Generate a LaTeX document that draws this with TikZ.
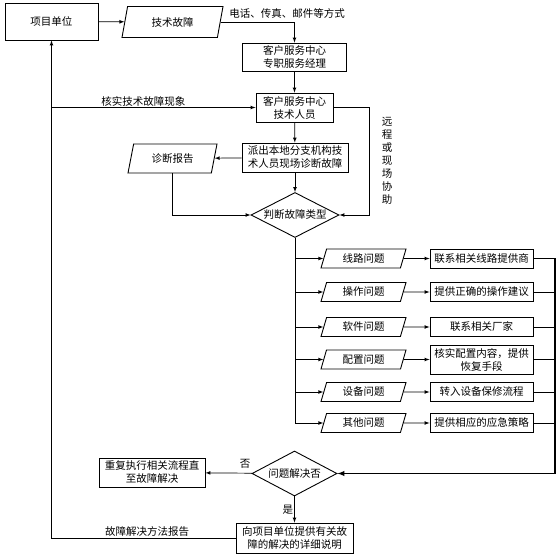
\documentclass[tikz,border=0pt]{standalone}
\usepackage{fontspec}
\newfontfamily\cjk{Noto Sans CJK SC}
\usetikzlibrary{shapes.geometric}
\begin{document}
\begin{tikzpicture}[x=1pt,y=-1pt,>=latex,line width=0.7pt,
    box/.style={draw,line width=0.9pt,inner sep=0pt,align=center,font=\cjk\fontsize{10.5}{13}\selectfont},
    para/.style={draw,line width=0.9pt,trapezium,trapezium left angle=60,trapezium right angle=120,trapezium stretches body,inner sep=0pt,font=\cjk\fontsize{10.5}{13}\selectfont},
    choice/.style={draw,line width=0.9pt,diamond,aspect=1.95,inner sep=0pt,font=\cjk\fontsize{10.5}{13}\selectfont},
    lbl/.style={inner sep=1pt,font=\cjk\fontsize{10.5}{13}\selectfont}]
        \useasboundingbox (0,0) rectangle (560,556);
        %Top row
            \node[box,minimum width=93pt,minimum height=37pt] (unit) at (51.5,21.5) {项目单位};
            \node[para,minimum width=101pt,minimum height=31pt] (fault) at (172.5,22) {技术故障};
        %Service center
            \node[box,minimum width=104pt,minimum height=28pt] (manager) at (294.5,57) {客户服务中心\\专职服务经理};
            \node[box,minimum width=77pt,minimum height=29pt] (tech) at (294.5,107.5) {客户服务中心\\技术人员};
            \node[box,minimum width=106pt,minimum height=29pt] (dispatch) at (295,157.5) {派出本地分支机构技\\术人员现场诊断故障};
            \node[para,minimum width=89pt,minimum height=29pt] (report) at (172.5,158.5) {诊断报告};
        %Judge
            \node[choice,minimum width=88pt,minimum height=45pt] (judge) at (295,215) {判断故障类型};
            \coordinate (assist) at (369,215);
        %Problem types
            \node[para,minimum width=85pt,minimum height=19pt] (line) at (363.5,258.5) {线路问题};
            \node[para,minimum width=85pt,minimum height=19pt] (oper) at (363.5,292) {操作问题};
            \node[para,minimum width=85pt,minimum height=19pt] (soft) at (363.5,327) {软件问题};
            \node[para,minimum width=85pt,minimum height=19pt] (conf) at (363.5,359.5) {配置问题};
            \node[para,minimum width=85pt,minimum height=19pt] (dev) at (363.5,392) {设备问题};
            \node[para,minimum width=85pt,minimum height=19pt] (other) at (363.5,423) {其他问题};
        %Actions
            \node[box,minimum width=103pt,minimum height=19pt] (lineact) at (481.5,258.5) {联系相关线路提供商};
            \node[box,minimum width=103pt,minimum height=19pt] (operact) at (481.5,292) {提供正确的操作建议};
            \node[box,minimum width=103pt,minimum height=19pt] (softact) at (481.5,327) {联系相关厂家};
            \node[box,minimum width=103pt,minimum height=29pt] (confact) at (481.5,359.5) {核实配置内容，提供\\恢复手段};
            \node[box,minimum width=103pt,minimum height=19pt] (devact) at (481.5,392) {转入设备保修流程};
            \node[box,minimum width=103pt,minimum height=19pt] (otheract) at (481.5,423) {提供相应的应急策略};
            \coordinate (bus) at (555,473.5);
        %Result
            \node[choice,minimum width=85pt,minimum height=45pt] (solved) at (294.5,473.5) {问题解决否};
            \node[box,minimum width=106pt,minimum height=29pt] (repeat) at (152,472.5) {重复执行相关流程直\\至故障解决};
            \node[box,minimum width=117pt,minimum height=30pt] (final) at (294.5,538) {向项目单位提供有关故\\障的解决的详细说明};
        %Arrows top
            \draw[->] (unit) -- (fault);
            \draw[->] (fault) -| (manager) node[lbl,pos=0.45,above,yshift=2pt] {电话、传真、邮件等方式};
            \draw[->] (manager) -- (tech);
            \draw[->] (tech) -- (dispatch);
            \draw[->] (dispatch) -- (report);
            \draw[->] (dispatch) -- (judge);
            \draw[->] (report.south) |- (judge.west);
            \draw[->] (tech.east) -| (assist) -- (judge.east);
            \node[lbl,align=center] (assisttext) at (387,161) {远\\程\\或\\现\\场\\协\\助};
        %Branches
            \draw[->] (judge.south) |- (line.west);
            \draw[->] (judge.south) |- (oper.west);
            \draw[->] (judge.south) |- (soft.west);
            \draw[->] (judge.south) |- (conf.west);
            \draw[->] (judge.south) |- (dev.west);
            \draw[->] (judge.south) |- (other.west);
            \draw[->] (line) -- (lineact);
            \draw[->] (oper) -- (operact);
            \draw[->] (soft) -- (softact);
            \draw[->] (conf) -- (confact);
            \draw[->] (dev) -- (devact);
            \draw[->] (other) -- (otheract);
        %Bus
            \draw (lineact.east) -- (lineact.east -| bus);
            \draw (operact.east) -- (operact.east -| bus);
            \draw (softact.east) -- (softact.east -| bus);
            \draw (confact.east) -- (confact.east -| bus);
            \draw (devact.east) -- (devact.east -| bus);
            \draw (otheract.east) -- (otheract.east -| bus);
            \draw[line width=1.4pt] (lineact.east -| bus) -- (bus);
            \draw[->,line width=1.4pt] (bus) -- (solved.east);
        %Result arrows
            \draw[->] (solved) -- (repeat) node[lbl,pos=0.15,above,yshift=3pt] {否};
            \draw[->] (solved) -- (final) node[lbl,midway,left] {是};
            \draw[->] (final.west) -| (unit.south) node[lbl,pos=0.24,above] {故障解决方法报告};
            \draw[->] (unit.south |- tech.west) -- (tech.west) node[lbl,pos=0.45,above] {核实技术故障现象};
\end{tikzpicture}
\end{document}
